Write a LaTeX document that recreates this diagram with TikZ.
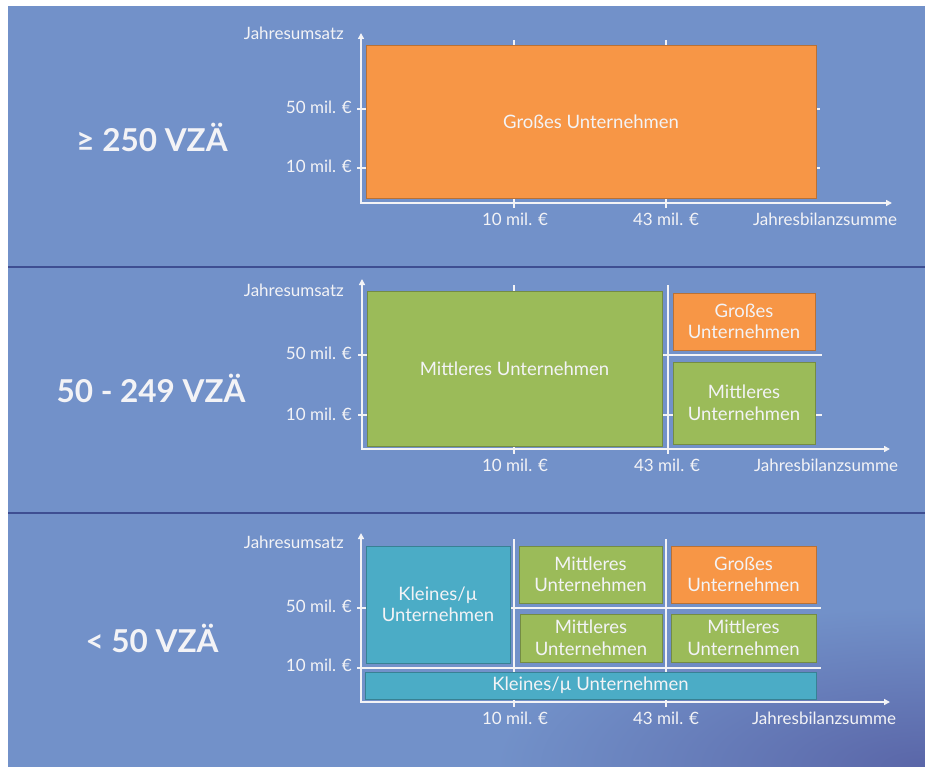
\documentclass[tikz,border=0pt]{standalone}
\usepackage{fontspec}
\setmainfont{Lato}
\usetikzlibrary{arrows.meta}
\definecolor{bgblue}{RGB}{114,145,201}
\definecolor{deepblue}{RGB}{90,102,168}
\definecolor{lineblue}{RGB}{62,78,146}
\definecolor{grossorange}{RGB}{247,150,70}
\definecolor{mittelgreen}{RGB}{155,187,89}
\definecolor{kleinteal}{RGB}{75,172,198}
\definecolor{labelwhite}{RGB}{243,243,246}
\tikzset{
  axis/.style={labelwhite, line width=2pt, {Triangle[length=6pt,width=6pt]}-{Triangle[length=6pt,width=6pt]}},
  gridline/.style={labelwhite, line width=1.5pt},
  ticklabel/.style={text=labelwhite, inner sep=0pt, font=\fontsize{17}{20}\selectfont},
  sizebox/.style={draw=#1!75!black, line width=0.6pt, fill=#1, inner sep=0pt,
    text=labelwhite, align=center, font=\fontsize{18.5}{21.5}\selectfont},
  headcount/.style={text=labelwhite, inner sep=0pt, anchor=base, font=\fontsize{31.5}{38}\selectfont\bfseries},
}
\begin{document}
\begin{tikzpicture}[x=1pt,y=-1pt]
  \useasboundingbox (0,0) rectangle (925,767);
  \fill[bgblue] (8,6) rectangle (925,767);
  \begin{scope}
    \clip (8,514) rectangle (925,767);
    \shade[inner color=deepblue, outer color=bgblue] (925,767) ellipse (430pt and 160pt);
  \end{scope}
  \draw[lineblue, line width=2pt] (8,267) -- (925,267) (8,513) -- (925,513);

  \node[headcount] (vza1) at (152,152) {≥ 250 VZÄ};
  \draw[gridline] (514,40) -- (514,208) (666,40) -- (666,208)
    (357,109) -- (820,109) (357,168) -- (820,168);
  \draw[axis] (361,33) -- (361,203) -- (892,203);
  \node[sizebox=grossorange, minimum width=450pt, minimum height=153pt] (gross1) at (591,121.5) {Großes Unternehmen};
  \node[ticklabel, anchor=base east] (umsatz1) at (344,40) {Jahresumsatz};
  \node[ticklabel, anchor=base east] (u50a) at (352,114) {50 mil. €};
  \node[ticklabel, anchor=base east] (u10a) at (352,173) {10 mil. €};
  \node[ticklabel, anchor=base] (b10a) at (515,225.5) {10 mil. €};
  \node[ticklabel, anchor=base] (b43a) at (666,225.5) {43 mil. €};
  \node[ticklabel, anchor=base] (bilanz1) at (825,225.5) {Jahresbilanzsumme};

  \node[headcount] (vza2) at (151,402) {50 - 249 VZÄ};
  \draw[gridline] (514,285) -- (514,454) (668,285) -- (668,454)
    (358,355) -- (822,355) (358,415) -- (822,415);
  \draw[axis] (362,279) -- (362,449) -- (890,449);
  \node[sizebox=mittelgreen, minimum width=295pt, minimum height=155pt] (mittel2) at (514.5,368.5) {Mittleres Unternehmen};
  \node[sizebox=grossorange, minimum width=142pt, minimum height=57pt] (gross2) at (744,321.5) {Großes\\Unternehmen};
  \node[sizebox=mittelgreen, minimum width=142pt, minimum height=82pt] (mittel2b) at (744,403) {Mittleres\\Unternehmen};
  \node[ticklabel, anchor=base east] (umsatz2) at (344,296) {Jahresumsatz};
  \node[ticklabel, anchor=base east] (u50b) at (352,359) {50 mil. €};
  \node[ticklabel, anchor=base east] (u10b) at (352,420) {10 mil. €};
  \node[ticklabel, anchor=base] (b10b) at (515,471.5) {10 mil. €};
  \node[ticklabel, anchor=base] (b43b) at (667,471.5) {43 mil. €};
  \node[ticklabel, anchor=base] (bilanz2) at (826,471.5) {Jahresbilanzsumme};

  \node[headcount] (vza3) at (152,652) {< 50 VZÄ};
  \draw[gridline] (514,539) -- (514,707) (666,539) -- (666,707)
    (357,608) -- (821,608) (357,668) -- (821,668);
  \draw[axis] (361,533) -- (361,702) -- (890,702);
  \node[sizebox=kleinteal, minimum width=144pt, minimum height=117pt] (klein3) at (438,604.5) {Kleines/µ\\Unternehmen};
  \node[sizebox=mittelgreen, minimum width=143pt, minimum height=57pt] (mittel3a) at (590.5,574.5) {Mittleres\\Unternehmen};
  \node[sizebox=grossorange, minimum width=145pt, minimum height=57pt] (gross3) at (743.5,574.5) {Großes\\Unternehmen};
  \node[sizebox=mittelgreen, minimum width=142pt, minimum height=48pt] (mittel3b) at (591,638) {Mittleres\\Unternehmen};
  \node[sizebox=mittelgreen, minimum width=145pt, minimum height=48pt] (mittel3c) at (743.5,638) {Mittleres\\Unternehmen};
  \node[sizebox=kleinteal, minimum width=451pt, minimum height=27pt] (klein3b) at (590.5,685.5) {Kleines/µ Unternehmen};
  \node[ticklabel, anchor=base east] (umsatz3) at (344,548) {Jahresumsatz};
  \node[ticklabel, anchor=base east] (u50c) at (352,612.5) {50 mil. €};
  \node[ticklabel, anchor=base east] (u10c) at (352,671.5) {10 mil. €};
  \node[ticklabel, anchor=base] (b10c) at (515,724) {10 mil. €};
  \node[ticklabel, anchor=base] (b43c) at (666,724) {43 mil. €};
  \node[ticklabel, anchor=base] (bilanz3) at (824,724) {Jahresbilanzsumme};
\end{tikzpicture}
\end{document}
